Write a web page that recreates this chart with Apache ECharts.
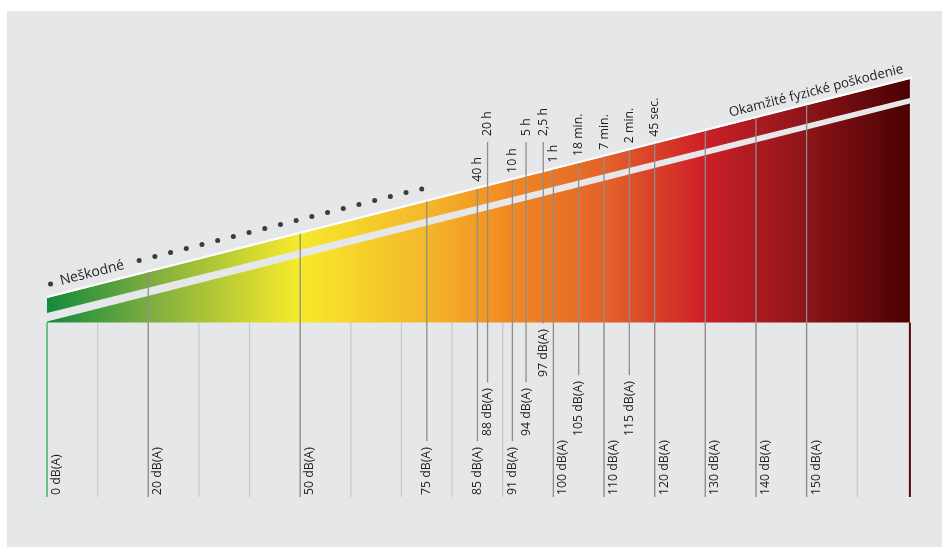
<!DOCTYPE html>
<html><head><meta charset="utf-8">
<script src="https://cdn.jsdelivr.net/npm/echarts@6/dist/echarts.min.js"></script>
<style>html,body{margin:0;padding:0;background:#fff}#c{width:942px;height:547px}</style>
</head><body><div id="c"></div>
<script>
// x axis: sound level in dB(A); y axis: hidden "level" scale used for the wedge drawing
const gridDb = [0,10,20,30,40,50,60,70,80,90,100,110,120,130,140,150,160];
// where each marker sits on the scale
const markerDb = [0,20,50,75,85,87.0,91.9,94.6,98.0,100,105,110,115,120,130,140,150];
const markerLabels = ['0 dB(A)','20 dB(A)','50 dB(A)','75 dB(A)','85 dB(A)','88 dB(A)','91 dB(A)','94 dB(A)','97 dB(A)','100 dB(A)','105 dB(A)','110 dB(A)','115 dB(A)','120 dB(A)','130 dB(A)','140 dB(A)','150 dB(A)'];
const markerRow = [-1,-1,-1,0,0,1,0,1,2,-1,1,-1,1,-1,-1,-1,-1]; // -1 = label beside a full line
// permitted exposure time per marker (index into markers)
const timeMarker = [4,5,6,7,8,9,10,11,12,13];
const timeLabels = ['40 h','20 h','10 h','5 h','2,5 h','1 h','18 min.','7 min.','2 min.','45 sec.'];
const timeRaised = [0,1,0,1,1,0,0,0,0,0];
const bandDb = [0,170.4];
const baseLevel = [34.9,34.9];
const lowerTop = [35.1,78.7];
const upperBottom = [36.8,79.8];
const upperTop = [39.8,83.6];
const dotDb = [0.7,18.2,21.3,24.4,27.5,30.6,33.7,36.8,39.9,43.0,46.1,49.2,52.3,55.4,58.5,61.6,64.7,67.8,70.9,74.0];
const dotLevel = [42.6,47.3,48.1,48.9,49.7,50.5,51.3,52.1,52.9,53.7,54.5,55.3,56.1,56.9,57.7,58.5,59.3,60.1,60.9,61.6];
const zoneLabels = ['Neškodné','Okamžité fyzické poškodenie'];
const zoneDb = [8.9,151.9];
const zoneLevel = [44.8,81.2];

const FONT = '"Open Sans", "DejaVu Sans", sans-serif';
const FS = 12.3;
const TXT = '#1e1e1e';
const mctx = document.createElement('canvas').getContext('2d');
function textW(t, fs){ mctx.font = (fs||FS) + 'px ' + FONT; return mctx.measureText(t).width; }

const chart = echarts.init(document.getElementById('c'));

function bandTopAt(api, px){
  const a = api.coord([bandDb[0], upperTop[0]]);
  const b = api.coord([bandDb[1], upperTop[1]]);
  return a[1] + (b[1]-a[1])*(px-a[0])/(b[0]-a[0]);
}
const grad = () => new echarts.graphic.LinearGradient(0,0,1,0,[
  {offset:0,color:'#138a3c'},
  {offset:0.12,color:'#7dad3f'},
  {offset:0.29,color:'#f6ea2b'},
  {offset:0.44,color:'#f4b72b'},
  {offset:0.53,color:'#f28b22'},
  {offset:0.65,color:'#e3612a'},
  {offset:0.76,color:'#cd2028'},
  {offset:0.88,color:'#8c1519'},
  {offset:1,color:'#4a0002'}
]);

const option = {
  backgroundColor:'#ffffff',
  animation:false,
  graphic:[{type:'rect',shape:{x:7,y:11,width:935,height:536},style:{fill:'#e6e7e9'},z:-10}],
  grid:{left:47,right:24,top:47,bottom:50},
  xAxis:{type:'value',min:0,max:172,show:false},
  yAxis:{type:'value',min:0,max:90,show:false},
  series:[
    { // light grid ticks below the wedge
      type:'custom', clip:false, z:1,
      data:gridDb.map(d=>[d,0]),
      renderItem:(params,api)=>{
        const d = gridDb[params.dataIndex];
        const top = api.coord([d, baseLevel[0]]);
        const bot = api.coord([d, 0]);
        return {type:'line',shape:{x1:top[0],y1:top[1],x2:bot[0],y2:bot[1]},
          style:{stroke: d===0 ? '#6fbf8e' : '#c9cacc', lineWidth: d===0 ? 2 : 1.3}};
      }
    },
    { // wedge bands
      type:'custom', clip:false, z:2,
      data:[[0,0]],
      renderItem:(params,api)=>{
        const P=(d,l)=>api.coord([d,l]);
        const lower=[P(bandDb[0],baseLevel[0]),P(bandDb[0],lowerTop[0]),P(bandDb[1],lowerTop[1]),P(bandDb[1],baseLevel[1])];
        const upper=[P(bandDb[0],upperBottom[0]),P(bandDb[0],upperTop[0]),P(bandDb[1],upperTop[1]),P(bandDb[1],upperBottom[1])];
        const w1=P(bandDb[0],upperTop[0]), w2=P(bandDb[1],upperTop[1]);
        const edgeTop=P(bandDb[1],baseLevel[1]), edgeBot=P(bandDb[1],0);
        return {type:'group',children:[
          {type:'polygon',shape:{points:lower},style:{fill:grad()}},
          {type:'polygon',shape:{points:upper},style:{fill:grad()}},
          {type:'line',shape:{x1:w1[0],y1:w1[1]-1,x2:w2[0]+2,y2:w2[1]-1.5},style:{stroke:'#ffffff',lineWidth:2.2}},
          {type:'line',shape:{x1:edgeTop[0],y1:edgeTop[1],x2:edgeBot[0],y2:edgeBot[1]},style:{stroke:'#5a0808',lineWidth:2}}
        ]};
      }
    },
    { // dB markers with labels
      type:'custom', clip:false, z:3,
      data:markerDb.map(d=>[d,0]),
      renderItem:(params,api)=>{
        const i=params.dataIndex, d=markerDb[i];
        const p=api.coord([d,0]);
        const x=p[0];
        const rowBottom=[api.coord([d,0.4])[1],api.coord([d,12.2])[1],api.coord([d,24.0])[1]];
        const ti=timeMarker.indexOf(i);
        let yTop = bandTopAt(api,x);
        if (ti>=0 && timeRaised[ti]) yTop = api.coord([d,71])[1];
        if (d===0) yTop = api.coord([d,baseLevel[0]])[1];
        const children=[];
        const row=markerRow[i];
        let yEnd, tx, ty;
        if (row<0){ yEnd=p[1]; tx=x+9.5; ty=rowBottom[0]; }
        else { ty=rowBottom[row]; tx=x; yEnd=ty-textW(markerLabels[i])-6; }
        if (d!==0) children.push({type:'line',shape:{x1:x,y1:yTop,x2:x,y2:yEnd},style:{stroke:'#8e8e8e',lineWidth:1.3}});
        children.push({type:'text',x:tx,y:ty,rotation:Math.PI/2,
          style:{text:markerLabels[i],x:0,y:0,align:'left',verticalAlign:'middle',fill:TXT,font:FS+'px '+FONT}});
        if (ti>=0){
          const lb = timeRaised[ti] ? api.coord([d,72.2])[1] : bandTopAt(api,x)-7;
          children.push({type:'text',x:x,y:lb,rotation:Math.PI/2,
            style:{text:timeLabels[ti],x:0,y:0,align:'left',verticalAlign:'middle',fill:TXT,font:FS+'px '+FONT}});
        }
        return {type:'group',children};
      }
    },
    { // dotted "harmless" trail
      type:'scatter', z:4, symbol:'circle', symbolSize:5,
      itemStyle:{color:'#111'},
      data:dotDb.map((d,i)=>[d,dotLevel[i]])
    },
    { // zone labels along the slope
      type:'custom', clip:false, z:5,
      data:zoneDb.map((d,i)=>[d,zoneLevel[i]]),
      renderItem:(params,api)=>{
        const i=params.dataIndex;
        const a=api.coord([bandDb[0],upperTop[0]]), b=api.coord([bandDb[1],upperTop[1]]);
        const ang=Math.atan2(a[1]-b[1], b[0]-a[0]);
        const p=api.coord([zoneDb[i],zoneLevel[i]]);
        return {type:'text',x:p[0],y:p[1],rotation:ang,
          style:{text:zoneLabels[i],x:0,y:0,align:'center',verticalAlign:'middle',fill:TXT,font:(i===0?14:13.3)+'px '+FONT}};
      }
    }
  ]
};
chart.setOption(option);
</script>
</body></html>
